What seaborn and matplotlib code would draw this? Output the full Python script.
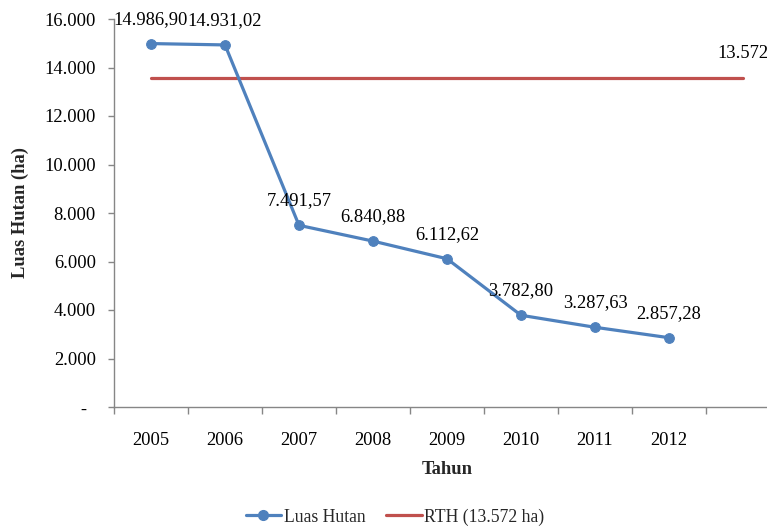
import matplotlib
matplotlib.use("Agg")
import matplotlib.pyplot as plt
import seaborn as sns
import numpy as np
import pandas as pd
from matplotlib.lines import Line2D
from matplotlib.ticker import FuncFormatter

years = ["2005", "2006", "2007", "2008", "2009", "2010", "2011", "2012"]
luas_hutan = [14986.90, 14931.02, 7491.57, 6840.88, 6112.62, 3782.80, 3287.63, 2857.28]
luas_labels = ["14.986,90", "14.931,02", "7.491,57", "6.840,88", "6.112,62",
               "3.782,80", "3.287,63", "2.857,28"]
rth_value = 13572
rth_label = "13.572"
n_rth_points = 9

sns.set_theme(style="white")
plt.rcParams['font.family'] = ['Liberation Serif', 'DejaVu Serif']

BLUE = "#4F81BD"
RED = "#C0504D"
GRAY = "#868686"
FS = 13.3

fig = plt.figure(figsize=(7.67, 5.29), dpi=100)
ax = fig.add_axes([114/767, (529-407)/529, 666/767, 388/529])

df = pd.DataFrame({"x": np.arange(len(years)), "y": luas_hutan})
df_rth = pd.DataFrame({"x": np.arange(n_rth_points), "y": [rth_value]*n_rth_points})

sns.lineplot(data=df_rth, x="x", y="y", ax=ax, color=RED, linewidth=2.3, zorder=2)
sns.lineplot(data=df, x="x", y="y", ax=ax, color=BLUE, linewidth=2.3, marker="o",
             markersize=7, markeredgecolor=BLUE, zorder=3)

for xi, yi, lab in zip(df["x"], df["y"], luas_labels):
    ax.annotate(lab, (xi, yi), xytext=(0, 17.5), textcoords="offset points",
                ha="center", va="center", fontsize=FS, color="black")
ax.annotate(rth_label, (n_rth_points-1, rth_value), xytext=(0, 17.5),
            textcoords="offset points", ha="center", va="center",
            fontsize=FS, color="black", annotation_clip=False)

ax.set_xlim(-0.5, 8.5)
ax.set_ylim(0, 16000)
ax.set_yticks(np.arange(0, 16001, 2000))
ax.yaxis.set_major_formatter(FuncFormatter(
    lambda v, p: "-  " if v == 0 else f"{int(v):,}".replace(",", ".")))
ax.set_xticks(np.arange(len(years)))
ax.set_xticklabels(years)
ax.set_xticks(np.arange(-0.5, 9.0, 1.0), minor=True)

ax.tick_params(axis="x", which="major", length=0, pad=18, labelsize=FS, colors="black")
ax.tick_params(axis="x", which="minor", length=5, width=1, color=GRAY, direction="out", bottom=True)
ax.tick_params(axis="y", which="major", length=4, width=1, color=GRAY, direction="out",
               left=True, pad=9, labelsize=FS, labelcolor="black")

for s in ["top", "right"]:
    ax.spines[s].set_visible(False)
for s in ["left", "bottom"]:
    ax.spines[s].set_color(GRAY)
    ax.spines[s].set_linewidth(1)

ax.set_xlabel("Tahun", fontsize=FS, fontweight="bold")
ax.set_ylabel("Luas Hutan (ha)", fontsize=FS, fontweight="bold")
ax.xaxis.set_label_coords(0.5, -0.14)
ax.yaxis.set_label_coords(-0.128, 0.5)

handles = [Line2D([], [], color=BLUE, lw=2.3, marker="o", markersize=7),
           Line2D([], [], color=RED, lw=2.3)]
fig.legend(handles, ["Luas Hutan", "RTH (13.572 ha)"], loc="center",
           bbox_to_anchor=(395/767, 1 - 517/529), ncol=2, frameon=False,
           fontsize=12.7, handlelength=2.0, handletextpad=0.15, columnspacing=1.2)

fig.savefig("out.png", dpi=100)
